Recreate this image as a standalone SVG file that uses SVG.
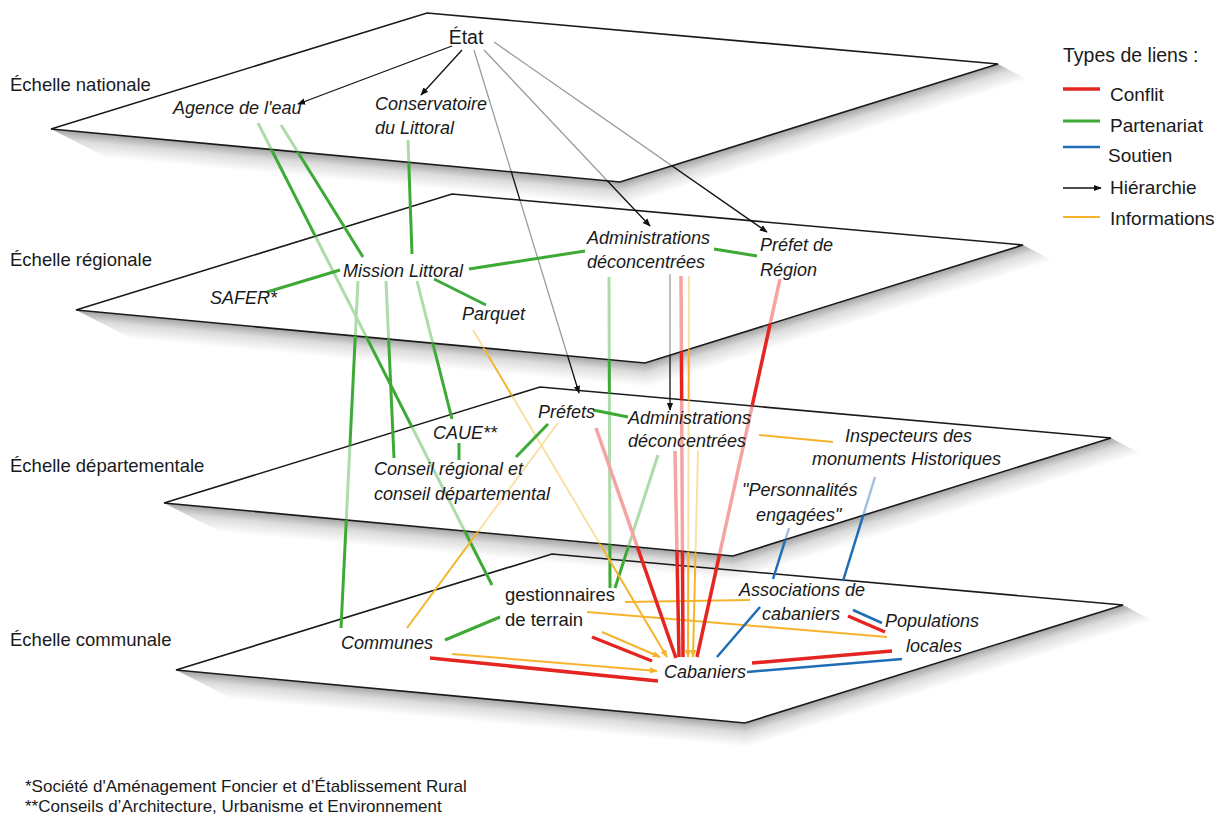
<svg xmlns="http://www.w3.org/2000/svg" width="1228" height="814" viewBox="0 0 1228 814">
<style>
.plane{fill:#fff;stroke:#1a1a1a;stroke-width:1.6;stroke-linejoin:miter}
.sh{fill:url(#shg)}
text{font-family:"Liberation Sans",Arial,sans-serif;fill:#1a1a1a}
.n{font-size:18px;font-style:italic}
.r{font-size:18.5px}
.sc{font-size:18.5px}
.lg{font-size:19px}
.fn{font-size:17px}
line{fill:none;stroke-linecap:butt}
.c{stroke:#e52521;stroke-width:3.5}
.p{stroke:#3daa35;stroke-width:3}
.s{stroke:#1e6db5;stroke-width:2.5}
.h{stroke:#111;stroke-width:1.3}
.i{stroke:#f6b42c;stroke-width:2}
.ha{marker-end:url(#ah)}
.ia{marker-end:url(#ai)}
</style>
<defs>
<linearGradient id="shg" x1="0" y1="0" x2="0" y2="1">
<stop offset="0" stop-color="#000" stop-opacity="0.36"/>
<stop offset="0.4" stop-color="#000" stop-opacity="0.14"/>
<stop offset="1" stop-color="#000" stop-opacity="0"/>
</linearGradient>
<radialGradient id="shr" cx="0" cy="0" r="24" gradientUnits="userSpaceOnUse">
<stop offset="0" stop-color="#000" stop-opacity="0.36"/>
<stop offset="0.4" stop-color="#000" stop-opacity="0.14"/>
<stop offset="1" stop-color="#000" stop-opacity="0"/>
</radialGradient>
<path id="wedge" d="M0,0 L-2.3,24 L7.2,23 Z" fill="url(#shr)"/>
<polygon id="stripA" class="sh" points="0,0 571.5,0 571.5,24 60,24"/>
<polygon id="stripB" class="sh" points="0,0 396,0 420,24 0,24"/>
<marker id="ah" viewBox="0 0 10 10" refX="9" refY="5" markerWidth="8" markerHeight="8" markerUnits="userSpaceOnUse" orient="auto"><path d="M0,1 L10,5 L0,9 z" fill="#111"/></marker>
<marker id="ai" viewBox="0 0 10 10" refX="9" refY="5" markerWidth="8" markerHeight="8" markerUnits="userSpaceOnUse" orient="auto"><path d="M0,1 L10,5 L0,9 z" fill="#f6b42c"/></marker>
<mask id="mf-reg" maskUnits="userSpaceOnUse" x="0" y="0" width="1228" height="814" style="mask-type:alpha">
<path fill-rule="evenodd" d="M0 0H1228V814H0Z M51 129L427 13L998 64L620 182Z"/>
<path fill-opacity="0.42" d="M51 129L427 13L998 64L620 182Z"/>
</mask>
<mask id="mf-dep" maskUnits="userSpaceOnUse" x="0" y="0" width="1228" height="814" style="mask-type:alpha">
<path fill-rule="evenodd" d="M0 0H1228V814H0Z M51 129L427 13L998 64L620 182Z M76 310L452 194L1023 245L645 363Z"/>
<path fill-opacity="0.42" d="M51 129L427 13L998 64L620 182Z M76 310L452 194L1023 245L645 363Z"/>
</mask>
<mask id="mf-com" maskUnits="userSpaceOnUse" x="0" y="0" width="1228" height="814" style="mask-type:alpha">
<path fill-rule="evenodd" d="M0 0H1228V814H0Z M51 129L427 13L998 64L620 182Z M76 310L452 194L1023 245L645 363Z M164 503L540 387L1111 438L733 556Z"/>
<path fill-opacity="0.42" d="M51 129L427 13L998 64L620 182Z M76 310L452 194L1023 245L645 363Z M164 503L540 387L1111 438L733 556Z"/>
</mask>
</defs>
<rect width="1228" height="814" fill="#fff"/>

<g id="planes">
<g id="plane-communale">
<use href="#stripA" transform="translate(176,670) rotate(5.32)"/>
<use href="#stripB" transform="translate(745,723) rotate(-17.34)"/>
<use href="#wedge" transform="translate(745,723)"/>
<polygon class="plane" points="176,670 552,554 1123,605 745,723"/>
</g>
<g id="plane-departementale">
<use href="#stripA" transform="translate(164,503) rotate(5.32)"/>
<use href="#stripB" transform="translate(733,556) rotate(-17.34)"/>
<use href="#wedge" transform="translate(733,556)"/>
<polygon class="plane" points="164,503 540,387 1111,438 733,556"/>
</g>
<g id="plane-regionale">
<use href="#stripA" transform="translate(76,310) rotate(5.32)"/>
<use href="#stripB" transform="translate(645,363) rotate(-17.34)"/>
<use href="#wedge" transform="translate(645,363)"/>
<polygon class="plane" points="76,310 452,194 1023,245 645,363"/>
</g>
<g id="plane-nationale">
<use href="#stripA" transform="translate(51,129) rotate(5.32)"/>
<use href="#stripB" transform="translate(620,182) rotate(-17.34)"/>
<use href="#wedge" transform="translate(620,182)"/>
<polygon class="plane" points="51,129 427,13 998,64 620,182"/>
</g>
</g>

<g id="connectors">
<g id="links-communal" mask="url(#mf-com)">
<line class="p" x1="258" y1="123" x2="492" y2="585"/>
<line class="p" x1="358" y1="281" x2="341" y2="628"/>
<line class="p" x1="609" y1="277" x2="610" y2="588"/>
<line class="p" x1="658" y1="455" x2="615" y2="588"/>
<line class="p" x1="500" y1="617" x2="445" y2="640"/>
<line class="i ia" x1="473" y1="330" x2="667" y2="657"/>
<line class="i" x1="407" y1="628" x2="558" y2="423"/>
<line class="i" x1="625" y1="602" x2="750" y2="600"/>
<line class="i" x1="587" y1="612" x2="887" y2="637"/>
<line class="i ia" x1="602" y1="632" x2="660" y2="657"/>
<line class="i ia" x1="452" y1="654" x2="657" y2="671"/>
<line class="i ia" x1="689" y1="276" x2="688" y2="657"/>
<line class="i ia" x1="698" y1="451" x2="693" y2="657"/>
<line class="c" x1="681" y1="276" x2="683" y2="657"/>
<line class="c" x1="675" y1="451" x2="679" y2="657"/>
<line class="c" x1="596" y1="428" x2="676" y2="658"/>
<line class="c" x1="780" y1="279" x2="697" y2="657"/>
<line class="c" x1="848" y1="616" x2="885" y2="632"/>
<line class="c" x1="752" y1="663" x2="892" y2="651"/>
<line class="c" x1="430" y1="658" x2="658" y2="681"/>
<line class="c" x1="592" y1="637" x2="652" y2="661"/>
<line class="s" x1="789" y1="528" x2="773" y2="579"/>
<line class="s" x1="875" y1="477" x2="843" y2="581"/>
<line class="s" x1="853" y1="610" x2="882" y2="623"/>
<line class="s" x1="760" y1="607" x2="717" y2="657"/>
<line class="s" x1="747" y1="672" x2="902" y2="659"/>
</g>
<g id="links-departemental" mask="url(#mf-dep)">
<line class="h ha" x1="474" y1="50" x2="579" y2="393"/>
<line class="h ha" x1="670" y1="274" x2="670" y2="410"/>
<line class="p" x1="417" y1="281" x2="452" y2="419"/>
<line class="p" x1="386" y1="281" x2="394" y2="458"/>
<line class="p" x1="459" y1="443" x2="459" y2="460"/>
<line class="p" x1="548" y1="424" x2="516" y2="457"/>
<line class="p" x1="593" y1="410" x2="628" y2="417"/>
<line class="i" x1="759" y1="435" x2="833" y2="442"/>
</g>
<g id="links-regional" mask="url(#mf-reg)">
<line class="h ha" x1="484" y1="50" x2="650" y2="226"/>
<line class="h ha" x1="494" y1="42" x2="767" y2="232"/>
<line class="p" x1="281" y1="125" x2="363" y2="257"/>
<line class="p" x1="408" y1="140" x2="412" y2="254"/>
<line class="p" x1="340" y1="270" x2="267" y2="292"/>
<line class="p" x1="469" y1="269" x2="585" y2="251"/>
<line class="p" x1="434" y1="279" x2="486" y2="305"/>
<line class="p" x1="714" y1="249" x2="757" y2="256"/>
</g>
<g id="links-national">
<line class="h ha" x1="452" y1="46" x2="298" y2="104"/>
<line class="h ha" x1="462" y1="50" x2="421" y2="95"/>
</g>
</g>

<g id="scale-labels">
<text class="sc" x="10" y="91">Échelle nationale</text>
<text class="sc" x="10" y="266">Échelle régionale</text>
<text class="sc" x="10" y="472">Échelle départementale</text>
<text class="sc" x="10" y="646">Échelle communale</text>
</g>

<g id="etat"><text class="r" x="466" y="44" text-anchor="middle" style="font-size:19.5px">État</text></g>
<g id="agence-eau"><text class="n" x="173" y="114">Agence de l'eau</text></g>
<g id="conservatoire"><text class="n" x="375" y="110">Conservatoire</text><text class="n" x="375" y="134">du Littoral</text></g>
<g id="mission-littoral"><text class="n" x="343" y="277">Mission Littoral</text></g>
<g id="safer"><text class="n" x="210" y="304">SAFER*</text></g>
<g id="parquet"><text class="n" x="462" y="320">Parquet</text></g>
<g id="admin-regionales"><text class="n" x="587" y="244">Administrations</text><text class="n" x="587" y="268">déconcentrées</text></g>
<g id="prefet-region"><text class="n" x="760" y="251">Préfet de</text><text class="n" x="760" y="276">Région</text></g>
<g id="prefets"><text class="n" x="538" y="418">Préfets</text></g>
<g id="admin-departementales"><text class="n" x="628" y="424">Administrations</text><text class="n" x="628" y="447">déconcentrées</text></g>
<g id="caue"><text class="n" x="433" y="439">CAUE**</text></g>
<g id="conseils"><text class="n" x="374" y="475">Conseil régional et</text><text class="n" x="374" y="500">conseil départemental</text></g>
<g id="inspecteurs"><text class="n" x="845" y="442">Inspecteurs des</text><text class="n" x="812" y="465">monuments Historiques</text></g>
<g id="personnalites"><text class="n" x="742" y="496">"Personnalités</text><text class="n" x="756" y="521">engagées"</text></g>
<g id="gestionnaires"><text class="r" x="505" y="601">gestionnaires</text><text class="r" x="505" y="626">de terrain</text></g>
<g id="communes"><text class="n" x="341" y="649">Communes</text></g>
<g id="associations"><text class="n" x="739" y="596">Associations de</text><text class="n" x="762" y="620">cabaniers</text></g>
<g id="populations"><text class="n" x="885" y="627">Populations</text><text class="n" x="906" y="652">locales</text></g>
<g id="cabaniers"><text class="n" x="664" y="678">Cabaniers</text></g>

<g id="legend">
<text class="lg" x="1063" y="62" style="font-size:19.5px">Types de liens :</text>
<line class="c" x1="1063" y1="89" x2="1100" y2="89"/>
<text class="lg" x="1110" y="101">Conflit</text>
<line class="p" x1="1063" y1="121" x2="1100" y2="121"/>
<text class="lg" x="1110" y="132">Partenariat</text>
<line class="s" x1="1063" y1="147" x2="1100" y2="147"/>
<text class="lg" x="1108" y="162">Soutien</text>
<line class="h ha" x1="1063" y1="188" x2="1101" y2="188"/>
<text class="lg" x="1110" y="194">Hiérarchie</text>
<line class="i" x1="1063" y1="217" x2="1100" y2="217"/>
<text class="lg" x="1110" y="225">Informations</text>
</g>

<g id="footnotes">
<text class="fn" x="25" y="792">*Société d'Aménagement Foncier et d’Établissement Rural</text>
<text class="fn" x="25" y="812">**Conseils d’Architecture, Urbanisme et Environnement</text>
</g>
</svg>
